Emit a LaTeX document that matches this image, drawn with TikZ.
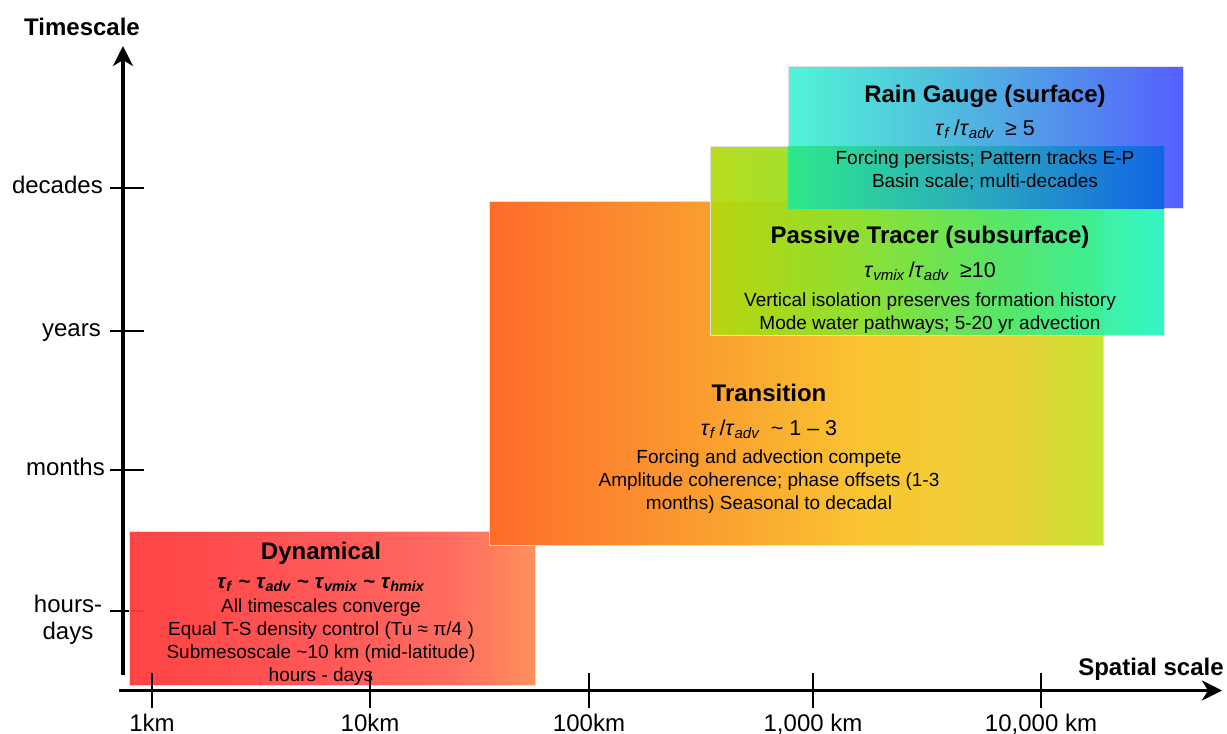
\documentclass[tikz,border=0pt]{standalone}
\usepackage{fontspec}
\setmainfont{Liberation Sans}
\usetikzlibrary{arrows.meta}
\definecolor{d0}{RGB}{255,56,56}\definecolor{d1}{RGB}{255,78,78}\definecolor{d2}{RGB}{255,100,86}\definecolor{d3}{RGB}{255,138,82}
\definecolor{t0}{RGB}{255,108,42}\definecolor{t1}{RGB}{250,150,48}\definecolor{t2}{RGB}{250,198,50}\definecolor{t3}{RGB}{235,208,58}\definecolor{t4}{RGB}{198,228,50}
\definecolor{p0}{RGB}{180,217,12}\definecolor{p1}{RGB}{140,225,45}\definecolor{p2}{RGB}{75,232,110}\definecolor{p3}{RGB}{34,246,190}
\definecolor{r0}{RGB}{80,245,213}\definecolor{r1}{RGB}{80,175,225}\definecolor{r2}{RGB}{85,95,255}
\definecolor{o0}{RGB}{46,232,138}\definecolor{o1}{RGB}{42,170,190}\definecolor{o2}{RGB}{18,100,228}
\pgfdeclarehorizontalshading{dynsh}{100bp}{color(0bp)=(d0); color(25bp)=(d0); color(50bp)=(d1); color(65bp)=(d2); color(75bp)=(d3); color(100bp)=(d3)}
\pgfdeclarehorizontalshading{transsh}{100bp}{color(0bp)=(t0); color(25bp)=(t0); color(40bp)=(t1); color(56bp)=(t2); color(67.5bp)=(t3); color(75bp)=(t4); color(100bp)=(t4)}
\pgfdeclarehorizontalshading{passsh}{100bp}{color(0bp)=(p0); color(25bp)=(p0); color(40bp)=(p1); color(57.5bp)=(p2); color(75bp)=(p3); color(100bp)=(p3)}
\pgfdeclarehorizontalshading{rainsh}{100bp}{color(0bp)=(r0); color(25bp)=(r0); color(50bp)=(r1); color(75bp)=(r2); color(100bp)=(r2)}
\pgfdeclarehorizontalshading{ovsh}{100bp}{color(0bp)=(o0); color(25bp)=(o0); color(50bp)=(o1); color(75bp)=(o2); color(100bp)=(o2)}
\newcommand{\tauu}[1]{\textit{τ}\textsubscript{\textit{#1}}}
\begin{document}
\begin{tikzpicture}[x=1pt,y=-1pt,
  box/.style={shade, draw=black!12, line width=0.8pt, inner sep=0pt},
  txt/.style={inner sep=0pt, align=center, anchor=base},
  ttl/.style={txt, font=\bfseries\fontsize{24}{28}\selectfont},
  frm/.style={txt, font=\fontsize{21.5}{25}\selectfont},
  bdy/.style={txt, font=\fontsize{19}{22.7}\selectfont},
  lbl/.style={inner sep=0pt, align=center, font=\fontsize{24}{27}\selectfont},
  axisline/.style={line width=3.8pt, -{Stealth[length=20pt,width=20pt,inset=6pt]}},
  tick/.style={line width=2.8pt}]
\useasboundingbox (0,0) rectangle (1227,734);
% y ticks (beneath boxes)
\foreach \n/\y in {tdec/188,tyr/331,tmon/470,thd/611}{
  \coordinate (\n a) at (110,\y); \coordinate (\n b) at (144,\y);
  \draw[tick] (\n a) -- (\n b);}
% boxes
\node[box, shading=dynsh, fill opacity=0.94, minimum width=406pt, minimum height=154pt] (dynbox) at (332,608) {};
\node[box, shading=transsh, minimum width=614pt, minimum height=344pt] (transbox) at (796,373) {};
\node[box, shading=passsh, fill opacity=0.93, minimum width=454pt, minimum height=189pt] (passbox) at (937,240.5) {};
\node[box, shading=rainsh, minimum width=395pt, minimum height=142pt] (rainbox) at (985.5,137) {};
\node[shade, shading=ovsh, inner sep=0pt, minimum width=376pt, minimum height=62pt] (ovbox) at (976,177) {};
% texts: Rain Gauge (multi-line nodes: base = last line)
\node[ttl] (raint) at (985,102) {Rain Gauge (surface)};
\node[frm] (rainf) at (985,135) {\tauu{f}\,/\tauu{adv}\enspace ≥ 5};
\node[bdy] (rainb) at (985,187) {Forcing persists; Pattern tracks E-P\\Basin scale; multi-decades};
% Passive Tracer
\node[ttl] (passt) at (930,243) {Passive Tracer (subsurface)};
\node[frm] (passf) at (930,277) {\tauu{vmix}\,/\tauu{adv}\enspace ≥10};
\node[bdy] (passb) at (930,329) {Vertical isolation preserves formation history\\Mode water pathways; 5-20 yr advection};
% Transition
\node[ttl] (transt) at (769,401) {Transition};
\node[frm] (transf) at (769,435) {\tauu{f}\,/\tauu{adv}\enspace \textasciitilde\ 1 – 3};
\node[bdy] (transb) at (769,509) {Forcing and advection compete\\Amplitude coherence; phase offsets (1-3\\months) Seasonal to decadal};
% Dynamical
\node[ttl] (dynt) at (321,559) {Dynamical};
\node[frm, font=\bfseries\fontsize{20.5}{24}\selectfont] (dynf) at (321,588) {\tauu{f} \textasciitilde\ \tauu{adv} \textasciitilde\ \tauu{vmix} \textasciitilde\ \tauu{hmix}};
\node[bdy] (dynb) at (321,681) {All timescales converge\\Equal T-S density control (Tu ≈ π/4 )\\Submesoscale \textasciitilde10 km (mid-latitude)\\hours - days};
% axes
\coordinate (yb) at (123,675); \coordinate (yt) at (123,46);
\coordinate (xl) at (119,690.5); \coordinate (xr) at (1222,690.5);
\draw[axisline] (yb) -- (yt);
\draw[axisline] (xl) -- (xr);
\foreach \n/\x in {xa/152,xb/370,xc/589,xd/813,xe/1041}{
  \coordinate (\n a) at (\x,673); \coordinate (\n b) at (\x,708);
  \draw[tick] (\n a) -- (\n b);}
% axis labels
\node[lbl, font=\bfseries\fontsize{24}{27}\selectfont] (ylab) at (82,27) {Timescale};
\node[lbl, font=\bfseries\fontsize{24}{27}\selectfont] (xlab) at (1151,669) {Spatial scale};
\node[lbl, anchor=base east] (ldec) at (103,193) {decades};
\node[lbl, anchor=base east] (lyr) at (101,336) {years};
\node[lbl, anchor=base east] (lmon) at (105,475) {months};
\node[lbl, anchor=north] (lhd) at (68,595) {hours-\\days};
\node[lbl, anchor=base] (l1) at (152,731) {1km};
\node[lbl, anchor=base] (l2) at (370,731) {10km};
\node[lbl, anchor=base] (l3) at (589,731) {100km};
\node[lbl, anchor=base] (l4) at (813,731) {1,000 km};
\node[lbl, anchor=base] (l5) at (1041,731) {10,000 km};
\end{tikzpicture}
\end{document}
